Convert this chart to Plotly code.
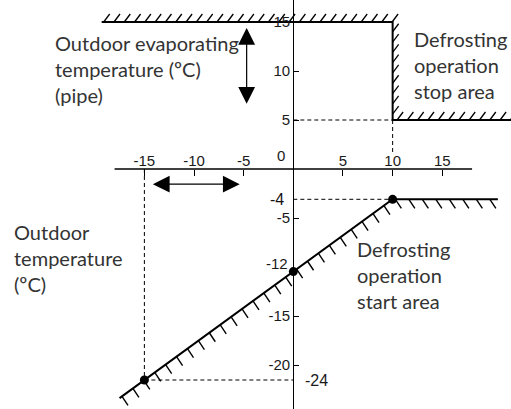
import math
import plotly.graph_objects as go

W, H = 511, 409

# ---- axis ticks ----
x_ticks = [-15, -10, -5, 5, 10, 15]
y_ticks = [15, 10, 5, -5, -15, -20]

# ---- defrosting operation stop boundary (evaporating temperature, ºC) ----
stop_x = [-19.3, 10, 10, 22]
stop_y = [15, 15, 5, 5]

# ---- defrosting operation start boundary ----
start_pts_x = [-15, 0, 10]
start_pts_y = [-24, -12, -4]
start_x = [-17.5, -15, 0, 10, 20.6]
start_y = [-26, -24, -12, -4, -4]

# ---- range arrows ----
evap_arrow_x = -4.7
evap_arrow_y = [14.4, 6.5]
outdoor_arrow_x = [-14.3, -5.4]
outdoor_arrow_y = -1.55

X_RANGE = [-29.54, 21.92]
Y_RANGE = [-24.49, 17.245]     # upper (evaporating) scale
Y2_RANGE = [-27.21, 18.06]     # lower (start-area) scale

AXIS_FONT = dict(family="Liberation Sans, Arial", size=15, color="#1a1a1a")
TEXT_FONT = dict(family="Lato, Open Sans", size=20, color="#333333")


def x_to_px(v):
    return (v - X_RANGE[0]) / (X_RANGE[1] - X_RANGE[0]) * W


def px_to_x(p):
    return X_RANGE[0] + p / W * (X_RANGE[1] - X_RANGE[0])


def y_to_px(v, r):
    return (r[1] - v) / (r[1] - r[0]) * H


def px_to_y(p, r):
    return r[1] - p / H * (r[1] - r[0])


def label(v):
    return f"{v:g}"


def hatch(xs, ys, yr, spacing, vec, offset=0.0):
    """Short strokes along a polyline; vec is (right, up) in pixels."""
    pts = [(x_to_px(x), y_to_px(y, yr)) for x, y in zip(xs, ys)]
    hx, hy = [], []
    d = offset
    for (x0, y0), (x1, y1) in zip(pts[:-1], pts[1:]):
        L = math.hypot(x1 - x0, y1 - y0)
        while d <= L:
            px = x0 + (x1 - x0) * d / L
            py = y0 + (y1 - y0) * d / L
            hx += [px_to_x(px), px_to_x(px + vec[0]), None]
            hy += [px_to_y(py, yr), px_to_y(py - vec[1], yr), None]
            d += spacing
        d -= L
    return hx, hy


fig = go.Figure()

# stop area boundary and hatching
sx, sy = hatch(stop_x, stop_y, Y_RANGE, 10.3, (6, 8), offset=2)
fig.add_trace(go.Scatter(x=sx, y=sy, mode="lines",
                         line=dict(color="black", width=1.3), hoverinfo="skip"))
fig.add_trace(go.Scatter(x=stop_x, y=stop_y, mode="lines",
                         line=dict(color="black", width=2), hoverinfo="skip"))

# start area boundary and hatching
hx, hy = hatch(start_x, start_y, Y2_RANGE, 13.5, (6, -9), offset=3)
fig.add_trace(go.Scatter(x=hx, y=hy, mode="lines", yaxis="y2",
                         line=dict(color="black", width=1.4), hoverinfo="skip"))
fig.add_trace(go.Scatter(x=start_x, y=start_y, mode="lines", yaxis="y2",
                         line=dict(color="black", width=2), hoverinfo="skip"))
fig.add_trace(go.Scatter(x=start_pts_x, y=start_pts_y, mode="markers", yaxis="y2",
                         marker=dict(color="black", size=9), hoverinfo="skip"))

dash = dict(color="black", width=1, dash="4px,3px")
axis_zero_on_y2 = px_to_y(y_to_px(0, Y_RANGE), Y2_RANGE)
shapes = [
    # horizontal x axis
    dict(type="line", xref="x", yref="y", x0=-18, x1=18, y0=0, y1=0,
         line=dict(color="black", width=1.3)),
    # guide lines
    dict(type="line", xref="x", yref="y", x0=0, x1=stop_x[1], y0=stop_y[2], y1=stop_y[2], line=dash),
    dict(type="line", xref="x", yref="y", x0=stop_x[1], x1=stop_x[1], y0=stop_y[2], y1=1.7, line=dash),
    dict(type="line", xref="x", yref="y2", x0=0, x1=start_pts_x[2],
         y0=start_pts_y[2], y1=start_pts_y[2], line=dash),
    dict(type="line", xref="x", yref="y2", x0=start_pts_x[0], x1=start_pts_x[0],
         y0=axis_zero_on_y2, y1=start_pts_y[0], line=dash),
    dict(type="line", xref="x", yref="y2", x0=start_pts_x[0], x1=0,
         y0=start_pts_y[0], y1=start_pts_y[0], line=dash),
]

annotations = [
    dict(x=0, y=0, xref="x", yref="y", text="0", showarrow=False,
         xanchor="right", yanchor="bottom", xshift=-6, yshift=3, font=AXIS_FONT),
    dict(x=0, y=start_pts_y[2], xref="x", yref="y2", text=label(start_pts_y[2]),
         showarrow=False, xanchor="right", xshift=-7,
         font=dict(AXIS_FONT, size=16, color="#111111")),
    dict(x=0, y=start_pts_y[1], xref="x", yref="y2", text=label(start_pts_y[1]),
         showarrow=False, xanchor="right", xshift=-3, yshift=8, font=AXIS_FONT),
    dict(x=0, y=start_pts_y[0], xref="x", yref="y2", text=label(start_pts_y[0]),
         showarrow=False, xanchor="left", xshift=10, font=dict(AXIS_FONT, size=16)),
    # range arrows
    dict(x=evap_arrow_x, y=evap_arrow_y[0], ax=evap_arrow_x, ay=evap_arrow_y[1],
         xref="x", yref="y", axref="x", ayref="y", text="", showarrow=True,
         arrowhead=2, startarrowhead=2, arrowside="end+start", arrowsize=2.8,
         startarrowsize=2.8, arrowwidth=1.2, arrowcolor="black", standoff=0, startstandoff=0),
    dict(x=outdoor_arrow_x[1], y=outdoor_arrow_y, ax=outdoor_arrow_x[0], ay=outdoor_arrow_y,
         xref="x", yref="y", axref="x", ayref="y", text="", showarrow=True,
         arrowhead=2, startarrowhead=2, arrowside="end+start", arrowsize=2.8,
         startarrowsize=2.8, arrowwidth=1.2, arrowcolor="black", standoff=0, startstandoff=0),
    # area descriptions
    dict(x=px_to_x(53), y=px_to_y(69, Y_RANGE), xref="x", yref="y",
         text="Outdoor evaporating<br>temperature (ºC)<br>(pipe)", showarrow=False,
         xanchor="left", yanchor="middle", align="left", font=TEXT_FONT),
    dict(x=px_to_x(412), y=px_to_y(65, Y_RANGE), xref="x", yref="y",
         text="Defrosting<br>operation<br>stop area", showarrow=False,
         xanchor="left", yanchor="middle", align="left", font=TEXT_FONT),
    dict(x=px_to_x(12), y=px_to_y(258, Y_RANGE), xref="x", yref="y",
         text="Outdoor<br>temperature<br>(ºC)", showarrow=False,
         xanchor="left", yanchor="middle", align="left", font=TEXT_FONT),
    dict(x=px_to_x(355), y=px_to_y(275, Y_RANGE), xref="x", yref="y",
         text="Defrosting<br>operation<br>start area", showarrow=False,
         xanchor="left", yanchor="middle", align="left", font=TEXT_FONT),
]

fig.update_layout(
    width=W, height=H,
    margin=dict(l=0, r=0, t=0, b=0),
    paper_bgcolor="white", plot_bgcolor="white",
    showlegend=False,
    shapes=shapes,
    annotations=annotations,
    xaxis=dict(range=X_RANGE, anchor="free", position=1 - y_to_px(0, Y_RANGE) / H,
               side="top", showline=False, showgrid=False, zeroline=False,
               tickmode="array", tickvals=x_ticks, ticktext=[label(v) for v in x_ticks],
               ticks="inside", ticklen=6,
               tickwidth=1.3, tickcolor="black", tickfont=AXIS_FONT),
    yaxis=dict(range=Y_RANGE, anchor="free", position=x_to_px(0) / W,
               side="left", showline=True, linecolor="black", linewidth=1.3,
               showgrid=False, zeroline=False,
               tickmode="array", tickvals=y_ticks, ticktext=[label(v) for v in y_ticks],
               ticks="inside", ticklen=5,
               tickwidth=1.3, tickcolor="black", tickfont=AXIS_FONT),
    yaxis2=dict(range=Y2_RANGE, overlaying="y", visible=False),
)

fig.write_html("out.html")
